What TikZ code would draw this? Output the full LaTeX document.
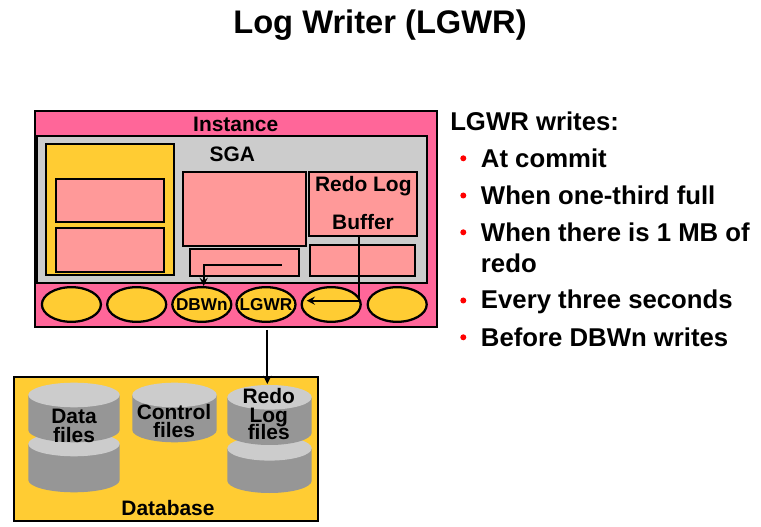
\documentclass[tikz,border=0pt]{standalone}
\usepackage{fontspec}
\setmainfont{Liberation Sans}
\usetikzlibrary{fit,shapes.geometric}
\definecolor{instpink}{HTML}{FF6699}
\definecolor{bufsalmon}{HTML}{FF9999}
\definecolor{dbyellow}{HTML}{FFCC33}
\definecolor{sgagrey}{HTML}{CCCCCC}
\definecolor{drumdark}{HTML}{969696}
\tikzset{
    area/.style={draw=black,line width=1.7pt,inner sep=0pt},
    proc/.style={draw=black,line width=1.7pt,fill=dbyellow,ellipse,inner sep=0pt,
        minimum width=44.25pt,minimum height=26pt},
    proclbl/.style={inner sep=0pt,font=\fontsize{12.9}{14}\bfseries},
    lbl/.style={anchor=base,inner sep=0pt,font=\fontsize{15.7}{18}\bfseries},
    item/.style={anchor=base west,inner sep=0pt,font=\fontsize{19.3}{22}\bfseries},
    flow/.style={line width=1.7pt,-stealth},
    drumside/.style={fill=drumdark},
    drumtop/.style={fill=sgagrey}
}
\begin{document}
\begin{tikzpicture}[x=0.75pt,y=-0.75pt]
    \useasboundingbox (0,0) rectangle (761,527);
    \node[anchor=base,inner sep=0pt,font=\fontsize{24.5}{28}\bfseries] (title) at (380,33.5) {Log Writer (LGWR)};
    % instance and its memory areas
    \node[area,fill=instpink,fit={(35,110.7) (437,326.7)}] (inst) {};
    \node[area,fill=sgagrey,fit={(37.3,136) (427,282.7)}] (sga) {};
    \node[area,fill=dbyellow,fit={(46,144) (174,274.7)}] (shared) {};
    \node[area,fill=bufsalmon,fit={(56,178.7) (164.3,222.3)}] (libcache) {};
    \node[area,fill=bufsalmon,fit={(56,227.7) (164.3,271.7)}] (dictcache) {};
    \node[area,fill=bufsalmon,fit={(183,172) (306,246)}] (dbcache) {};
    \node[area,fill=bufsalmon,fit={(189.7,249.3) (298.7,276)}] (largepool) {};
    \node[area,fill=bufsalmon,fit={(309,172) (417,236.3)}] (redobuf) {};
    \node[area,fill=bufsalmon,fit={(310.3,245) (415,276.3)}] (javapool) {};
    \node[lbl] (instlbl) at (235.7,131.5) {Instance};
    \node[lbl] (sgalbl) at (232.3,161.5) {SGA};
    \node[lbl] (redolbl) at (363.3,191.7) {Redo Log};
    \node[lbl] (buflbl) at (363,229.7) {Buffer};
    % background processes
    \foreach \pname/\x in {pa/71.4,pb/136.7,dbwn/201.8,lgwr/266,pc/331.2,pd/397.2}
        \node[proc] (\pname) at (\x,304.5) {};
    \node[proclbl] (dbwnlbl) at (dbwn) {DBWn};
    \node[proclbl] (lgwrlbl) at (lgwr) {LGWR};
    % database box with its drums
    \node[area,fill=dbyellow,fit={(14,377.3) (318,521.3)}] (db) {};
    \fill[drumside] (28.3,444) -- (28.3,480) arc (180:0:45.7 and 12.3) -- (119.7,444) -- cycle;
    \fill[drumtop] (74,444) ellipse (45.7 and 12.3);
    \fill[drumside] (28.3,395) -- (28.3,430) arc (180:0:45.7 and 12.3) -- (119.7,395) -- cycle;
    \fill[drumtop] (74,395) ellipse (45.7 and 12.3);
    \fill[drumside] (132.3,395) -- (132.3,430) arc (180:0:42.2 and 12.3) -- (216.7,395) -- cycle;
    \fill[drumtop] (174.5,395) ellipse (42.2 and 12.3);
    \fill[drumside] (227.3,448.3) -- (227.3,480.7) arc (180:0:42.2 and 12.3) -- (311.7,448.3) -- cycle;
    \fill[drumtop] (269.5,448.3) ellipse (42.2 and 12.3);
    \fill[drumside] (227.3,397.3) -- (227.3,432.7) arc (180:0:42.2 and 12.3) -- (311.7,397.3) -- cycle;
    \fill[drumtop] (269.5,397.3) ellipse (42.2 and 12.3);
    \node[lbl] (datalbl) at (74,424) {Data};
    \node[lbl] (datafiles) at (74,442) {files};
    \node[lbl] (ctllbl) at (174,420) {Control};
    \node[lbl] (ctlfiles) at (174,438) {files};
    \node[lbl] (redofile) at (268.7,404) {Redo};
    \node[lbl] (loglbl) at (268.7,422.3) {Log};
    \node[lbl] (logfiles) at (268.7,440) {files};
    \node[lbl] (dblbl) at (168,515) {Database};
    % write paths
    \coordinate (cacheout) at (281.7,265);
    \coordinate (dbwnin) at (203.7,286);
    \draw[flow] (cacheout) -| (dbwnin);
    \coordinate (redotap) at (358.7,300.7);
    \coordinate (procin) at (306.7,300.7);
    \draw[flow] (redobuf.south -| redotap) -- (redotap) -- (procin);
    \coordinate (lgwrout) at (267.3,330);
    \coordinate (filesin) at (267.3,384);
    \draw[flow] (lgwrout) -- (filesin);
    % list on the right
    \node[item] (head) at (450,130.7) {LGWR writes:};
    \foreach \y in {158.3,195.5,232.3,300.5,337.3}
        \fill[red] (463.3,\y) circle (3);
    \node[item] (itema) at (480.7,167.4) {At commit};
    \node[item] (itemb) at (480.7,204.7) {When one-third full};
    \node[item] (itemc) at (480.7,241.7) {When there is 1 MB of};
    \node[item] (itemd) at (480.7,272.4) {redo};
    \node[item] (iteme) at (480.7,309) {Every three seconds};
    \node[item] (itemf) at (480.7,346.4) {Before DBWn writes};
\end{tikzpicture}
\end{document}
